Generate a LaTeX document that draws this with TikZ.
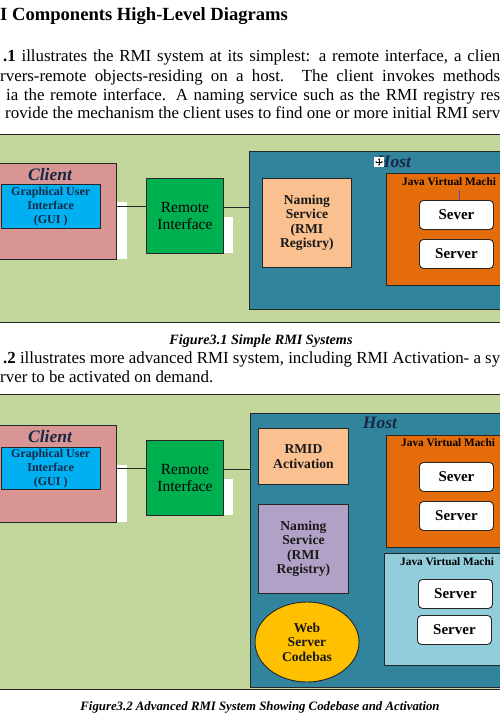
\documentclass[tikz,border=0pt]{standalone}
\usepackage{fontspec}
\setmainfont{Liberation Serif}
\usepackage{xcolor}
\usepackage{tikz}
\usetikzlibrary{arrows.meta}
\usetikzlibrary{shapes.geometric}
\usetikzlibrary{positioning, calc}
\definecolor{panelgreen}{RGB}{195,214,155}
\definecolor{clientpink}{RGB}{217,149,148}
\definecolor{guiblue}{RGB}{0,176,240}
\definecolor{rigreen}{RGB}{0,176,80}
\definecolor{hostteal}{RGB}{49,132,155}
\definecolor{jvmorange}{RGB}{228,108,10}
\definecolor{namingpeach}{RGB}{250,192,144}
\definecolor{namingpurple}{RGB}{178,161,199}
\definecolor{jvmblue}{RGB}{146,205,220}
\definecolor{webyellow}{RGB}{255,192,0}
\definecolor{inkblue}{RGB}{23,40,70}

\tikzset{
    blk/.style={draw=black!85, line width=0.9pt, inner sep=0pt, anchor=north west},
    panel/.style={draw=black!85, line width=0.9pt, fill=panelgreen, anchor=north west, inner sep=0pt},
    lbl/.style={font=\bfseries\fontsize{13.6}{14.5}\selectfont, align=center, text=black!90},
    guilbl/.style={lbl, font=\bfseries\fontsize{12}{14.3}\selectfont, text=inkblue},
    boxlbl/.style={font=\bfseries\itshape\fontsize{17.5}{19}\selectfont, text=inkblue},
    srv/.style={blk, rounded corners=4pt, fill=white, minimum width=74pt, minimum height=29pt,
        font=\bfseries\fontsize{15}{17}\selectfont},
    jvmlbl/.style={anchor=base west, inner sep=0pt, font=\bfseries\fontsize{11.3}{13}\selectfont},
    shadebox/.style={fill=white},
    wire/.style={draw=black!85, line width=1pt},
    body/.style={anchor=base west, inner sep=0pt, font=\fontsize{16.9}{19}\selectfont},
    caption/.style={anchor=base, inner sep=0pt, font=\bfseries\itshape\fontsize{14.2}{16}\selectfont}
}

\begin{document}
\begin{tikzpicture}[x=1pt, y=-1pt]
    \useasboundingbox (0,0) rectangle (500,720);
    \clip (0,0) rectangle (500,720);
    \fill[white] (0,0) rectangle (500,720);

    % text of the page
    \node[anchor=base west, inner sep=0pt, font=\bfseries\fontsize{18.6}{21}\selectfont] (title) at (0,20) {I Components High-Level Diagrams};
    \node[body] (par1a) at (3,61) {\makebox[497pt][s]{\textbf{.1} illustrates the RMI system at its simplest: a remote interface, a clien}};
    \node[body] (par1b) at (0,81) {\makebox[500pt][s]{rvers-remote objects-residing on a host. The client invokes methods}};
    \node[body] (par1c) at (6,100) {\makebox[494pt][s]{ia the remote interface. A naming service such as the RMI registry res}};
    \node[body] (par1d) at (5,118) {\makebox[495pt][s]{rovide the mechanism the client uses to find one or more initial RMI serv}};

    % FIGURE 3.1
    \node[panel, minimum width=520pt, minimum height=188pt] (fig1) at (-10,134) {};
    \node[caption] (cap1) at (261,344) {Figure3.1 Simple RMI Systems};

    \node[body] (par2a) at (3,363) {\makebox[497pt][s]{\textbf{.2} illustrates more advanced RMI system, including RMI Activation- a sy}};
    \node[body] (par2b) at (0,382) {rver to be activated on demand.};

    % FIGURE 3.2
    \node[panel, minimum width=520pt, minimum height=295pt] (fig2) at (-10,394) {};
    \node[caption, font=\bfseries\itshape\fontsize{12.8}{15}\selectfont] (cap2) at (260,710) {Figure3.2 Advanced RMI System Showing Codebase and Activation};

    % white shadows behind the boxes
    \foreach \xa/\ya/\xb/\yb in {
        116/202/127/259, 100/224/109/228, 223/217/233/253, 351/217/361/267,
        116/465/127/522, 100/486/109/489, 223/479/233/515, 348/467/358/484, 348/543/358/593}
        \fill[shadebox] (\xa,\ya) rectangle (\xb,\yb);

    % client side, figure 3.1
    \node[blk, fill=clientpink, minimum width=121pt, minimum height=96pt] (client1) at (-5,163) {};
    \node[boxlbl] (client1lbl) at (50,175) {Client};
    \node[blk, fill=guiblue, minimum width=99.5pt, minimum height=44pt, guilbl] (gui1) at (0.5,184) {Graphical User\\Interface\\(GUI )};
    \node[blk, fill=rigreen, minimum width=77pt, minimum height=75pt, align=center,
        font=\fontsize{15.5}{17.5}\selectfont] (ri1) at (146,178) {Remote\\Interface};

    % host, figure 3.1
    \node[blk, fill=hostteal, minimum width=270pt, minimum height=158pt] (host1) at (249,151) {};
    \node[boxlbl] (host1lbl) at (394,162) {Host};
    \node[fill=white, minimum size=10pt, inner sep=0pt] (grip) at (379,162) {};
    \draw[{Stealth[length=2pt]}-{Stealth[length=2pt]}, line width=0.5pt] ([xshift=-4pt]grip.center) -- ([xshift=4pt]grip.center);
    \draw[{Stealth[length=2pt]}-{Stealth[length=2pt]}, line width=0.5pt] ([yshift=-4pt]grip.center) -- ([yshift=4pt]grip.center);
    \node[blk, fill=namingpeach, minimum width=89pt, minimum height=89pt, lbl] (naming1) at (262,178) {Naming\\Service\\(RMI\\Registry)};
    \node[blk, fill=jvmorange, minimum width=130pt, minimum height=112pt] (jvm1) at (386,173) {};
    \node[jvmlbl] (jvm1lbl) at (402,185) {Java Virtual Machi};
    \node[srv] (sever1) at (419,200) {Sever};
    \node[srv] (server1) at (419,239) {Server};
    \draw[blue!40!gray, line width=0.8pt] ([xshift=3pt]sever1.north) -- ++(0,-10);

    \draw[wire] ([yshift=5pt]client1.east) coordinate (c1) -- (c1 -| ri1.west);
    \draw[wire] ([yshift=8.5pt]ri1.east) coordinate (c2) -- (c2 -| host1.west);

    % client side, figure 3.2
    \node[blk, fill=clientpink, minimum width=121pt, minimum height=97pt] (client2) at (-5,425) {};
    \node[boxlbl] (client2lbl) at (50,437) {Client};
    \node[blk, fill=guiblue, minimum width=99.5pt, minimum height=42pt, guilbl] (gui2) at (0.5,447) {Graphical User\\Interface\\(GUI )};
    \node[blk, fill=rigreen, minimum width=77pt, minimum height=75pt, align=center,
        font=\fontsize{15.5}{17.5}\selectfont] (ri2) at (146,440) {Remote\\Interface};

    % host, figure 3.2
    \node[blk, fill=hostteal, minimum width=270pt, minimum height=274pt] (host2) at (250,413) {};
    \node[boxlbl] (host2lbl) at (380,423) {Host};
    \node[blk, fill=namingpeach, minimum width=90pt, minimum height=56pt, lbl] (rmid) at (258,428) {RMID\\Activation};
    \node[blk, fill=namingpurple, minimum width=90pt, minimum height=89pt, lbl] (naming2) at (258,504) {Naming\\Service\\(RMI\\Registry)};
    \node[draw=black!85, line width=0.9pt, fill=webyellow, ellipse, minimum width=104pt, minimum height=80pt,
        inner sep=0pt, lbl] (web) at (307,642) {Web\\Server\\Codebas};
    \node[blk, fill=jvmorange, minimum width=130pt, minimum height=112pt] (jvm2) at (386,435) {};
    \node[jvmlbl] (jvm2lbl) at (401,446) {Java Virtual Machi};
    \node[blk, fill=jvmblue, minimum width=132pt, minimum height=112pt] (jvm3) at (384,553) {};
    \node[jvmlbl] (jvm3lbl) at (400,565) {Java Virtual Machi};
    \foreach \n/\x/\y/\t in {
        sever2/419/462/Sever, server2/419/501/Server,
        server3/418/579/Server, server4/417/615/Server}
        \node[srv] (\n) at (\x,\y) {\t};

    \draw[wire] ([yshift=5.5pt]client2.east) coordinate (c3) -- (c3 -| ri2.west);
    \draw[wire] ([yshift=8.5pt]ri2.east) coordinate (c4) -- (c4 -| host2.west);
\end{tikzpicture}
\end{document}
